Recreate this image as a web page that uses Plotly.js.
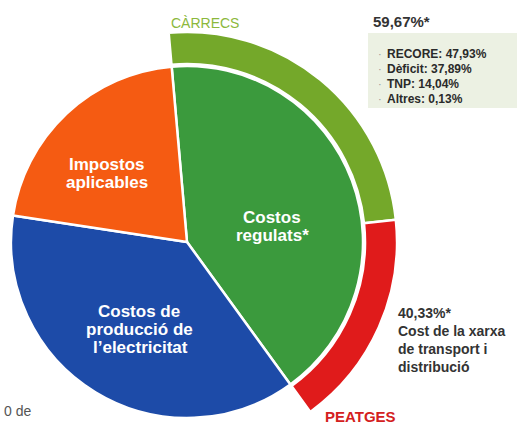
<!DOCTYPE html>
<html>
<head>
<meta charset="utf-8">
<script src="https://cdn.plot.ly/plotly-3.0.1.min.js"></script>
<style>
html,body{margin:0;padding:0;overflow:hidden;background:#fff;width:518px;height:425px;}
#chart{position:absolute;left:-40px;top:0;width:600px;height:470px;}
</style>
</head>
<body>
<div id="chart"></div>
<script>
// Main pie (share of electricity bill, %)
const categories = ["Costos regulats*", "Costos de producció de l’electricitat", "Impostos aplicables"];
const shares = [41.4, 37.4, 21.2];
// Regulated costs breakdown (outer ring, % of regulated costs)
const ringLabels = ["CÀRRECS", "PEATGES"];
const ringShares = [59.67, 40.33];
// Details of CÀRRECS
const carrecsItems = ["RECORE", "Dèficit", "TNP", "Altres"];
const carrecsValues = ["47,93%", "37,89%", "14,04%", "0,13%"];

const W = 600, H = 470, OX = -40;
const px = x => (x - OX) / W;
const py = y => 1 - y / H;
const font = "Liberation Sans, Arial, Helvetica, sans-serif";

const innerColors = ["#3b9a3d", "#1d4ba8", "#f55b12"];
const ringColors = ["#74a82a", "#e01b1b", "rgba(0,0,0,0)"];

const regulats = shares[0];
const total = shares.reduce((a, b) => a + b, 0);
const ringValues = [regulats * ringShares[0] / 100, regulats * ringShares[1] / 100, total - regulats];

const inner = {
  type: "pie", values: shares, labels: categories, sort: false, direction: "clockwise",
  rotation: -5, textinfo: "none", hoverinfo: "skip", showlegend: false,
  marker: {colors: innerColors, line: {color: "#ffffff", width: 2.5}},
  domain: {x: [px(11), px(363)], y: [py(418), py(66)]}
};
const ring = {
  type: "pie", values: ringValues, labels: ringLabels.concat(["_"]), sort: false, direction: "clockwise",
  rotation: -5, hole: 178 / 210, textinfo: "none", hoverinfo: "skip", showlegend: false,
  marker: {colors: ringColors, line: {color: "#ffffff", width: [2.5, 2.5, 0]}},
  domain: {x: [px(-23), px(397)], y: [py(452), py(32)]}
};

function ann(text, x, y, opts) {
  return Object.assign({
    text: text, x: px(x), y: py(y), xref: "paper", yref: "paper",
    showarrow: false, xanchor: "center", yanchor: "middle",
    font: {family: font, size: 17, color: "#ffffff"}
  }, opts || {});
}
const dark = {family: font, size: 14, color: "#333333"};
const annotations = [
  ann("<b>Impostos</b>", 107, 164),
  ann("<b>aplicables</b>", 107, 182),
  ann("<b>Costos</b>", 272, 217),
  ann("<b>regulats*</b>", 272, 235),
  ann("<b>Costos de</b>", 139, 311),
  ann("<b>producció de</b>", 139, 329),
  ann("<b>l’electricitat</b>", 140, 347),
  ann(ringLabels[0], 205, 23, {font: {family: font, size: 14, color: "#8cb83c"}}),
  ann("<b>" + ringLabels[1] + "</b>", 323, 416, {xanchor: "left", font: {family: font, size: 15, color: "#d42020"}}),
  ann("<b>" + ringShares[0].toFixed(2).replace(".", ",") + "%*</b>", 371, 22, {xanchor: "left", font: {family: font, size: 15, color: "#333333"}}),
  ann("<b>" + ringShares[1].toFixed(2).replace(".", ",") + "%*</b>", 396, 313, {xanchor: "left", font: dark}),
  ann("<b>Cost de la xarxa</b>", 396, 331, {xanchor: "left", font: dark}),
  ann("<b>de transport i</b>", 396, 349, {xanchor: "left", font: dark}),
  ann("<b>distribució</b>", 396, 367, {xanchor: "left", font: dark}),
  ann("0 de", 2, 411, {xanchor: "left", font: {family: font, size: 14, color: "#555555"}})
];
const itemYs = [54, 69, 84, 99];
carrecsItems.forEach((it, i) => {
  annotations.push(ann("<b>" + it + ": " + carrecsValues[i] + "</b>", 385, itemYs[i],
    {xanchor: "left", font: {family: font, size: 12, color: "#2a2a2a"}}));
  annotations.push(ann("·", 380, itemYs[i], {xanchor: "center", font: {family: font, size: 11, color: "#999999"}}));
});

const layout = {
  width: W, height: H, margin: {l: 0, r: 0, t: 0, b: 0},
  paper_bgcolor: "#ffffff", plot_bgcolor: "#ffffff",
  annotations: annotations,
  shapes: [{type: "rect", xref: "paper", yref: "paper", x0: px(368), x1: px(517), y0: py(108), y1: py(33),
            fillcolor: "#ecf1e3", line: {width: 0}, layer: "below"}]
};
Plotly.newPlot("chart", [ring, inner], layout, {displayModeBar: false, staticPlot: true});
</script>
</body>
</html>
